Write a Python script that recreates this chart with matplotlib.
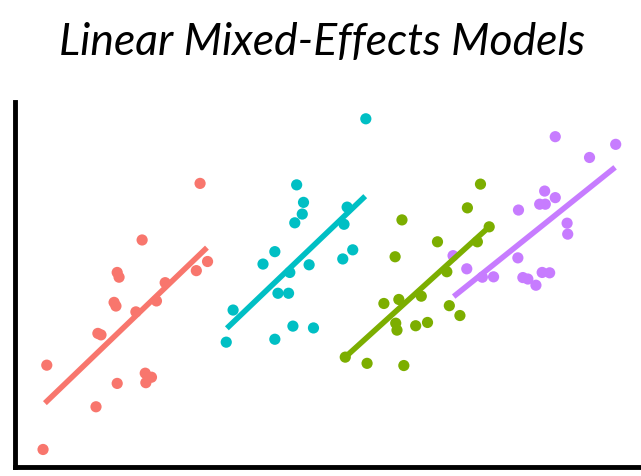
import numpy as np
import matplotlib
matplotlib.use("Agg")
import matplotlib.pyplot as plt

# values (arbitrary 0-10 units on both axes)
red_x = [2.97, 2.04, 3.09, 2.91, 1.64, 1.67, 2.41, 1.59, 1.62, 2.27,
         1.94, 1.33, 1.38, 0.51, 1.64, 2.09, 2.19, 2.10, 1.30, 0.45]
red_y = [7.77, 6.22, 5.63, 5.38, 5.33, 5.20, 5.05, 4.51, 4.41, 4.55,
         4.25, 3.66, 3.62, 2.79, 2.29, 2.57, 2.46, 2.31, 1.65, 0.48]
red_fit = [(0.48, 1.75), (3.08, 6.01)]

cyan_x = [4.52, 4.63, 4.61, 4.49, 4.17, 3.98, 4.72, 4.41, 4.22, 4.39,
          3.50, 4.46, 4.79, 3.39, 4.17, 5.63, 5.33, 5.28, 5.42, 5.26]
cyan_y = [7.73, 7.25, 6.93, 6.69, 5.90, 5.56, 5.54, 5.33, 4.76, 4.76,
          4.30, 3.86, 3.81, 3.42, 3.50, 9.54, 7.12, 6.65, 5.95, 5.70]
cyan_fit = [(3.40, 3.80), (5.62, 7.42)]

green_x = [7.47, 7.26, 6.21, 6.78, 7.42, 6.10, 6.93, 7.61, 5.92, 6.16,
           6.52, 6.97, 7.14, 6.11, 6.13, 6.43, 6.62, 5.30, 5.65, 6.24]
green_y = [7.75, 7.10, 6.77, 6.17, 6.17, 5.76, 5.35, 6.58, 4.48, 4.59,
           4.68, 4.42, 4.15, 3.94, 3.75, 3.87, 3.96, 3.01, 2.84, 2.78]
green_fit = [(5.30, 3.01), (7.61, 6.58)]

purple_x = [8.67, 9.64, 9.22, 8.50, 8.42, 8.51, 8.67, 8.08, 8.86, 8.87,
            7.03, 7.25, 7.50, 7.68, 8.07, 8.15, 8.23, 8.36, 8.46, 8.58]
purple_y = [9.05, 8.84, 8.48, 7.56, 7.20, 7.20, 7.38, 7.04, 6.68, 6.38,
            5.79, 5.43, 5.20, 5.21, 5.73, 5.19, 5.15, 4.98, 5.33, 5.32]
purple_fit = [(7.04, 4.67), (9.63, 8.21)]

groups = [
    (red_x, red_y, red_fit, "#F8766D"),
    (cyan_x, cyan_y, cyan_fit, "#00BFC4"),
    (purple_x, purple_y, purple_fit, "#C77CFF"),
    (green_x, green_y, green_fit, "#7CAE00"),
]

fig = plt.figure(figsize=(6.41, 4.76), dpi=100)
ax = fig.add_axes([15 / 641, 9 / 476, 625 / 641, 365 / 476])

for xs, ys, fit, col in groups:
    ax.scatter(xs, ys, s=65, color=col, edgecolors="none", zorder=2)
    fx, fy = zip(*fit)
    ax.plot(fx, fy, color=col, lw=4, solid_capstyle="butt", zorder=3)

ax.set_xlim(0, 10.03)
ax.set_ylim(0, 10)
ax.set_xticks([])
ax.set_yticks([])
for side in ["top", "right"]:
    ax.spines[side].set_visible(False)
for side in ["left", "bottom"]:
    ax.spines[side].set_linewidth(3.5)
    ax.spines[side].set_color("black")

fig.text(0.502, 1 - 55 / 476, "Linear Mixed-Effects Models", ha="center", va="baseline",
         fontsize=32, style="italic", family="Lato", color="black")

fig.savefig("out.png", dpi=100)
